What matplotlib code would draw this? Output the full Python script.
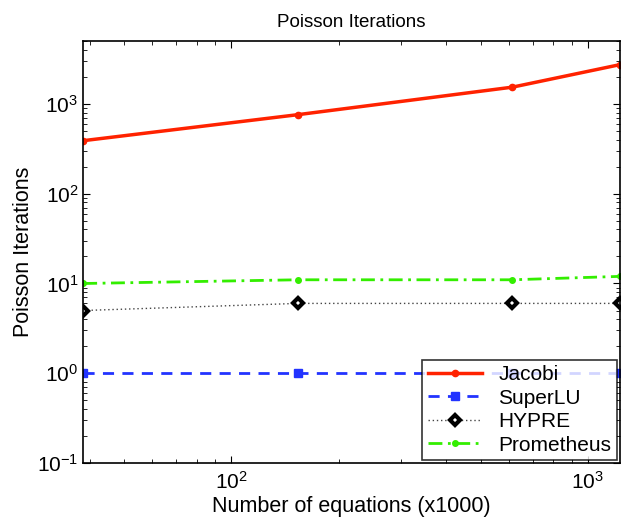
import numpy as np
import matplotlib
matplotlib.use("Agg")
import matplotlib.pyplot as plt
from matplotlib.ticker import LogLocator, NullFormatter

plt.rcParams["font.family"] = ["Liberation Sans", "DejaVu Sans"]
plt.rcParams["mathtext.fontset"] = "custom"
plt.rcParams["mathtext.rm"] = "Liberation Sans"

# ---------------------------------------------------------------------------
# Data
# ---------------------------------------------------------------------------
n_eq = [38.4, 153.6, 614.4, 1228.8]   # number of equations (x1000)
jacobi = [390, 760, 1540, 2740]
superlu = [1, 1, 1, 1]
hypre = [5, 6, 6, 6]
prometheus = [10, 11, 11, 12]

# ---------------------------------------------------------------------------
# Plot
# ---------------------------------------------------------------------------
fig = plt.figure(figsize=(6.21, 5.22), dpi=100)
ax = fig.add_axes([0.134, 0.113, 0.864, 0.808])

ax.plot(n_eq, jacobi, color="#ff2200", lw=2.5, marker=".", ms=9, label="Jacobi")
ax.plot(n_eq, superlu, color="#2233ff", lw=2, ls=(0, (4, 3)), marker="s", ms=6,
        label="SuperLU")
ax.plot(n_eq, hypre, color="#444444", lw=1, ls=(0, (1, 2)), marker="D", ms=5.5,
        mfc="white", mec="black", mew=3, label="HYPRE")
ax.plot(n_eq, prometheus, color="#33ee00", lw=2, ls=(0, (5, 2, 1, 2)), marker=".",
        ms=8, label="Prometheus")

ax.set_xscale("log")
ax.set_yscale("log")
ax.set_xlim(n_eq[0], n_eq[-1])
ax.set_ylim(0.1, 5000)

ax.yaxis.set_major_locator(LogLocator(base=10, numticks=10))
ax.yaxis.set_minor_locator(LogLocator(base=10, subs=np.arange(2, 10), numticks=20))
ax.xaxis.set_minor_locator(LogLocator(base=10, subs=np.arange(2, 10), numticks=20))
ax.xaxis.set_minor_formatter(NullFormatter())
ax.yaxis.set_minor_formatter(NullFormatter())

ax.tick_params(which="both", direction="in", top=True, right=True, labelsize=15)
ax.tick_params(which="major", length=5, width=0.8)
ax.tick_params(which="minor", length=3, width=0.6)
ax.tick_params(axis="x", which="major", pad=6)
for spine in ax.spines.values():
    spine.set_linewidth(1.2)

ax.set_title("Poisson Iterations", fontsize=13.5, pad=10)
ax.set_xlabel("Number of equations (x1000)", fontsize=15.5, labelpad=2)
ax.set_ylabel("Poisson Iterations", fontsize=15.5, labelpad=2)

leg = ax.legend(loc="lower right", fontsize=15, frameon=True, fancybox=False,
                edgecolor="black", borderaxespad=0.15, handlelength=2.6,
                labelspacing=0.22, borderpad=0.25)
leg.get_frame().set_linewidth(1.2)

plt.savefig("out.png", dpi=100)
